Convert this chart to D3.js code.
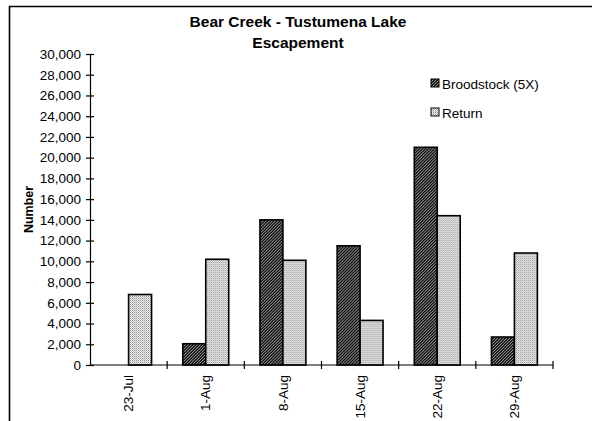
<!DOCTYPE html>
<html>
<head>
<meta charset="utf-8">
<script src="https://cdn.jsdelivr.net/npm/d3@7"></script>
<style>
  body { margin: 0; background: #fff; }
  svg { font-family: "Liberation Sans", Arial, sans-serif; }
</style>
</head>
<body>
<div id="chart"></div>
<script>
var categories = ["23-Jul", "1-Aug", "8-Aug", "15-Aug", "22-Aug", "29-Aug"]
var seriesNames = ["Broodstock (5X)", "Return"]
var broodstock = [0, 2050, 14000, 11500, 21000, 2700]
var returns = [6800, 10200, 10100, 4300, 14400, 10800]
var yTicks = [0, 2000, 4000, 6000, 8000, 10000, 12000, 14000, 16000, 18000, 20000, 22000, 24000, 26000, 28000, 30000]

var width = 592, height = 421
var margin = {top: 54, left: 90, right: 39, bottom: 56}

var svg = d3.select("#chart").append("svg")
  .attr("width", width)
  .attr("height", height)

var defs = svg.append("defs")

// dark diagonal hatching
var p1 = defs.append("pattern")
  .attr("id", "hatch")
  .attr("patternUnits", "userSpaceOnUse")
  .attr("width", 3).attr("height", 3)
p1.append("rect").attr("width", 3).attr("height", 3).attr("fill", "#111")
p1.append("path").attr("d", "M0,3 L3,0 M-1,1 L1,-1 M2,4 L4,2")
  .attr("stroke", "#cfcfcf").attr("stroke-width", 0.8)

// light dotted fill
var p2 = defs.append("pattern")
  .attr("id", "dots")
  .attr("patternUnits", "userSpaceOnUse")
  .attr("width", 2).attr("height", 2)
p2.append("rect").attr("width", 2).attr("height", 2).attr("fill", "#eeeeee")
p2.append("rect").attr("width", 1).attr("height", 1).attr("fill", "#8f8f8f")
p2.append("rect").attr("x", 1).attr("y", 1).attr("width", 1).attr("height", 1).attr("fill", "#c4c4c4")

var fills = ["url(#hatch)", "url(#dots)"]

// outer frame (left + top)
svg.append("path")
  .attr("d", "M9.5," + height + " L9.5,6.5 L" + width + ",6.5")
  .attr("fill", "none").attr("stroke", "#000").attr("stroke-width", 1.6)

var x0 = d3.scaleBand()
  .domain(categories)
  .range([margin.left, width - margin.right])
  .paddingInner(0).paddingOuter(0)

var x1 = d3.scaleBand()
  .domain(seriesNames)
  .range([0, x0.bandwidth()])
  .paddingInner(0).paddingOuter(0.68)

var y = d3.scaleLinear()
  .domain([0, 30000])
  .range([height - margin.bottom, margin.top])

var rows = categories.map(function(c, i) {
  return {cat: c, values: [broodstock[i], returns[i]]}
})

// bars
var groups = svg.selectAll(".grp")
  .data(rows).enter()
  .append("g")
  .attr("class", "grp")
  .attr("transform", function(d) { return "translate(" + x0(d.cat) + ",0)" })

groups.selectAll("rect")
  .data(function(d) { return d.values.map(function(v, k) { return {k: k, v: v} }) })
  .enter()
  .filter(function(d) { return d.v > 0 })
  .append("rect")
  .attr("x", function(d) { return x1(seriesNames[d.k]) })
  .attr("y", function(d) { return y(d.v) })
  .attr("width", x1.bandwidth())
  .attr("height", function(d) { return y(0) - y(d.v) })
  .attr("fill", function(d) { return fills[d.k] })
  .attr("stroke", "#000")
  .attr("stroke-width", 1.6)

// y axis
var yAxis = svg.append("g")
  .attr("transform", "translate(" + margin.left + ",0)")
  .call(d3.axisLeft(y).tickValues(yTicks).tickFormat(d3.format(",")).tickSizeInner(4).tickSizeOuter(0))
yAxis.select(".domain").attr("stroke", "#000").attr("stroke-width", 1.2)
yAxis.selectAll(".tick line").attr("x1", 4).attr("x2", -4).attr("stroke-width", 1.2)
yAxis.selectAll(".tick text")
  .attr("x", -9)
  .style("font-size", "13.5px")
  .attr("fill", "#000")

// x axis
var xAxis = svg.append("g")
  .attr("transform", "translate(0," + y(0) + ")")
xAxis.append("line")
  .attr("x1", x0.range()[0]).attr("x2", x0.range()[1])
  .attr("stroke", "#000").attr("stroke-width", 1.2)
var edges = categories.map(function(c) { return x0(c) }).concat([x0.range()[1]])
xAxis.selectAll(".xt")
  .data(edges.slice(1)).enter()
  .append("line")
  .attr("x1", function(d) { return d }).attr("x2", function(d) { return d })
  .attr("y1", -4).attr("y2", 4)
  .attr("stroke", "#000").attr("stroke-width", 1.2)
xAxis.selectAll(".xl")
  .data(categories).enter()
  .append("text")
  .attr("transform", function(d) { return "translate(" + (x0(d) + x0.bandwidth() / 2) + ",10) rotate(-90)" })
  .attr("text-anchor", "end")
  .attr("dy", "0.35em")
  .style("font-size", "13.5px")
  .text(function(d) { return d })

// title
var title = svg.append("text")
  .attr("text-anchor", "middle")
  .style("font-size", "15.5px")
  .style("font-weight", "bold")
title.append("tspan").attr("x", 298).attr("y", 27).text("Bear Creek - Tustumena Lake")
title.append("tspan").attr("x", 298).attr("y", 48).text("Escapement")

// y label
svg.append("text")
  .attr("transform", "translate(33," + ((y(0) + y(30000)) / 2) + ") rotate(-90)")
  .attr("text-anchor", "middle")
  .style("font-size", "12.5px")
  .style("font-weight", "bold")
  .text("Number")

// legend
var legend = svg.selectAll(".leg")
  .data(seriesNames).enter()
  .append("g")
  .attr("transform", function(d, i) { return "translate(431," + (79 + i * 29) + ")" })
legend.append("rect")
  .attr("width", 8).attr("height", 8)
  .attr("fill", function(d, i) { return fills[i] })
  .attr("stroke", "#000").attr("stroke-width", 1)
legend.append("text")
  .attr("x", 11).attr("y", 9.5)
  .style("font-size", "13.5px")
  .text(function(d) { return d })
</script>
</body>
</html>
